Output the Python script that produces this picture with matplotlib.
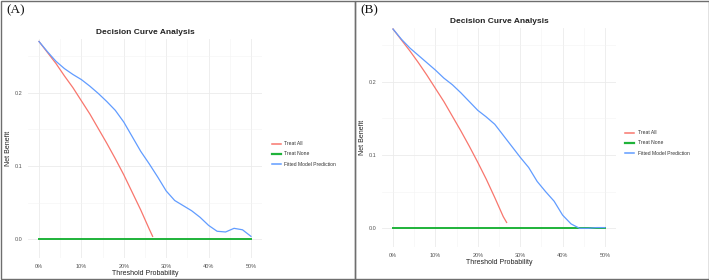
"""
Decision curve analysis, two panels (A) and (B), redrawn in matplotlib.
Output: out.png (709x280)
"""

import matplotlib
matplotlib.use("Agg")
import matplotlib.pyplot as plt
from matplotlib.patches import Rectangle
from matplotlib.ticker import FixedLocator, FuncFormatter

W, H = 709, 280

# --- data ---
thresholds = [0.00, 0.02, 0.04, 0.06, 0.08, 0.10, 0.12, 0.14, 0.16, 0.18,
              0.20, 0.22, 0.24, 0.26, 0.28, 0.30, 0.32, 0.34, 0.36, 0.38,
              0.40, 0.42, 0.44, 0.46, 0.48, 0.50]
model_a = [0.270, 0.256, 0.243, 0.233, 0.225, 0.218, 0.209, 0.199, 0.188, 0.176,
           0.160, 0.140, 0.120, 0.103, 0.085, 0.066, 0.053, 0.046, 0.039, 0.030,
           0.019, 0.011, 0.010, 0.015, 0.013, 0.004]
model_b = [0.272, 0.258, 0.246, 0.236, 0.226, 0.216, 0.205, 0.196, 0.185, 0.173,
           0.161, 0.152, 0.142, 0.127, 0.112, 0.097, 0.083, 0.064, 0.050, 0.037,
           0.018, 0.006, 0.000, 0.000, 0.001, 0.001]

all_t = [0.00, 0.02, 0.04, 0.06, 0.08, 0.10, 0.12, 0.14, 0.16, 0.18,
         0.20, 0.22, 0.24, 0.26, 0.268]
treat_all_a = [0.270, 0.255, 0.240, 0.223, 0.207, 0.189, 0.171, 0.151, 0.131,
               0.110, 0.088, 0.064, 0.040, 0.014, 0.004]
treat_all_b = [0.272, 0.257, 0.242, 0.226, 0.209, 0.191, 0.173, 0.153, 0.133,
               0.112, 0.090, 0.067, 0.042, 0.016, 0.008]

none_t = [0.0, 0.5]
treat_none = [0.0, 0.0]

x_ticks = [0.0, 0.1, 0.2, 0.3, 0.4, 0.5]
y_ticks = [0.0, 0.1, 0.2]

RED, GREEN, BLUE = "#F8766D", "#1FB33A", "#619CFF"
SANS = ["Liberation Sans", "DejaVu Sans"]
SERIF = ["Liberation Serif", "DejaVu Serif"]

plt.rcParams["font.family"] = SANS


def box(x0, y0, x1, y1):
    # pixel box (top-left origin) -> figure fraction rect
    return [x0 / W, 1 - y1 / H, (x1 - x0) / W, (y1 - y0) / H]


def panel(fig, ox, top, model, treat_all, tag, leg_x, leg_y):
    ax = fig.add_axes(box(ox + 28.4, top, ox + 261.6, top + 218.7))
    ax.plot(all_t, treat_all, color=RED, lw=0.9, label="Treat All")
    ax.plot(none_t, treat_none, color=GREEN, lw=1.4, label="Treat None")
    ax.plot(thresholds, model, color=BLUE, lw=0.9, label="Fitted Model Prediction")

    ax.set_xlim(-0.025, 0.525)
    ax.set_ylim(-0.0255, 0.273)
    ax.xaxis.set_major_locator(FixedLocator(x_ticks))
    ax.xaxis.set_minor_locator(FixedLocator([0.05, 0.15, 0.25, 0.35, 0.45]))
    ax.yaxis.set_major_locator(FixedLocator(y_ticks))
    ax.yaxis.set_minor_locator(FixedLocator([0.05, 0.15, 0.25]))
    ax.xaxis.set_major_formatter(FuncFormatter(lambda v, p: f"{v * 100:.0f}%"))
    ax.yaxis.set_major_formatter(FuncFormatter(lambda v, p: f"{v:.1f}"))
    ax.grid(which="major", color="#EBEBEB", lw=0.6)
    ax.grid(which="minor", color="#F3F3F3", lw=0.4)
    ax.set_axisbelow(True)
    for s in ax.spines.values():
        s.set_visible(False)
    ax.tick_params(which="both", length=0, labelsize=4.0, labelcolor="#555555")
    ax.tick_params(axis="x", pad=4)
    ax.tick_params(axis="y", pad=4)

    ax.set_xlabel("Threshold Probability", fontsize=5.0, color="#222222", labelpad=1.2)
    ax.set_ylabel("Net Benefit", fontsize=5.0, color="#222222")
    ax.yaxis.set_label_coords(-0.072, 0.5)
    fig.text((ox + 145) / W, 1 - (top - 7) / H, "Decision Curve Analysis",
             ha="center", va="center", fontsize=6.0, fontweight="bold", color="#222222")

    # legend drawn by hand, ggplot style
    for i, line in enumerate(ax.get_lines()):
        yy = 1 - (leg_y + i * 10.3) / H
        fig.add_artist(plt.Line2D([(ox + leg_x) / W, (ox + leg_x + 9) / W], [yy, yy],
                                  color=line.get_color(), lw=line.get_linewidth() + 0.2))
        fig.text((ox + leg_x + 12.5) / W, yy, line.get_label(), ha="left", va="center",
                 fontsize=3.6, color="#333333")

    fig.text((ox + 6) / W, 1 - 10.5 / H, tag, ha="left", va="center",
             fontsize=9.5, family=SERIF, color="#111111")


fig = plt.figure(figsize=(W / 100, H / 100), dpi=100)
fig.patch.set_facecolor("white")

panel(fig, 0, 39.3, model_a, treat_all_a, "(A)", 271.7, 143.5)
panel(fig, 354, 28.3, model_b, treat_all_b, "(B)", 271, 132.7)

# panel frames
for x0, x1 in [(0.5, 355), (355, 708.5)]:
    fig.add_artist(Rectangle((x0 / W, 0.8 / H), (x1 - x0) / W, (H - 1.6) / H,
                             fill=False, ec="#6E6E6E", lw=1.0, transform=fig.transFigure))

fig.savefig("out.png", dpi=100)
